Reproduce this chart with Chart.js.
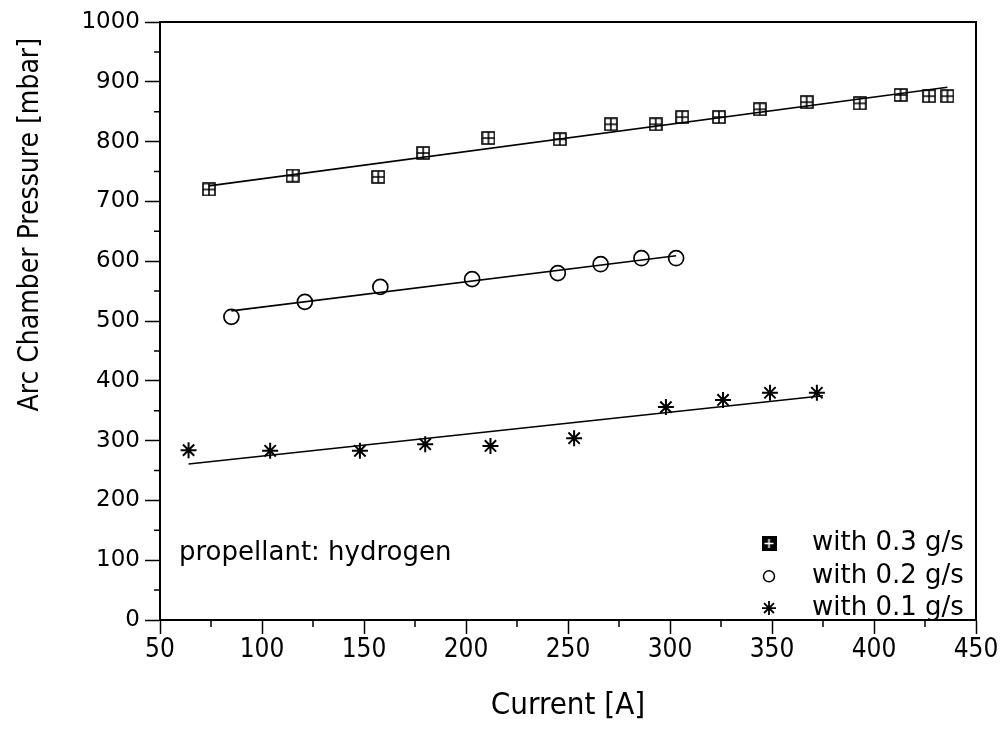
<!DOCTYPE html>
<html><head><meta charset="utf-8">
<script src="https://cdn.jsdelivr.net/npm/chart.js@4.4.1/dist/chart.umd.min.js"></script>
<style>html,body{margin:0;padding:0;background:#fff}</style>
</head><body>
<canvas id="c" width="1003" height="729"></canvas>
<script>
// ---- data ----
const xTickValues = [50, 100, 150, 200, 250, 300, 350, 400, 450];
const yTickValues = [0, 100, 200, 300, 400, 500, 600, 700, 800, 900, 1000];

const current03 = [74, 115, 157, 179, 211, 246, 271, 293, 306, 324, 344, 367, 393, 413, 427, 436];
const pressure03 = [720, 743, 741, 781, 806, 804, 829, 829, 841, 841, 854, 866, 864, 878, 876, 876];

const current02 = [85, 121, 158, 203, 245, 266, 286, 303];
const pressure02 = [507, 532, 557, 570, 580, 595, 605, 605];

const current01 = [64, 104, 148, 180, 212, 253, 298, 326, 349, 372];
const pressure01 = [284, 283, 283, 294, 291, 304, 356, 368, 380, 380];

const fitCurrent03 = [74, 436];
const fitPressure03 = [726, 891];
const fitCurrent02 = [85, 303];
const fitPressure02 = [517, 609];
const fitCurrent01 = [64, 375];
const fitPressure01 = [261, 375];

const legendLabels = ['with 0.3 g/s', 'with 0.2 g/s', 'with 0.1 g/s'];
const noteText = 'propellant: hydrogen';
const xTitle = 'Current [A]';
const yTitle = 'Arc Chamber Pressure [mbar]';

// ---- helpers ----
const pts = (xs, ys) => xs.map((x, i) => ({x: x, y: ys[i]}));

function squareCross(size, filled) {
  const c = document.createElement('canvas');
  c.width = size; c.height = size;
  const g = c.getContext('2d');
  g.lineWidth = 1.6;
  if (filled) {
    g.fillStyle = '#000';
    g.fillRect(0, 0, size, size);
    g.strokeStyle = '#fff';
    g.beginPath();
    g.moveTo(size / 2, 3); g.lineTo(size / 2, size - 3);
    g.moveTo(3, size / 2); g.lineTo(size - 3, size / 2);
    g.stroke();
  } else {
    g.strokeStyle = '#000';
    g.strokeRect(1, 1, size - 2, size - 2);
    g.beginPath();
    g.moveTo(size / 2, 1); g.lineTo(size / 2, size - 1);
    g.moveTo(1, size / 2); g.lineTo(size - 1, size / 2);
    g.stroke();
  }
  return c;
}
const sqImg = squareCross(14, false);

const FONT = '"DejaVu Sans", "Liberation Sans", sans-serif';
const FONT_C = '"DejaVu Sans Condensed", "Liberation Sans Narrow", "DejaVu Sans", sans-serif';

const extras = {
  id: 'extras',
  afterDraw(chart) {
    const g = chart.ctx;
    const xs = chart.scales.x, ys = chart.scales.y;
    const a = chart.chartArea;
    g.save();
    g.strokeStyle = '#000';
    // top and right frame
    g.lineWidth = 2;
    g.beginPath();
    g.moveTo(a.left, a.top); g.lineTo(a.right, a.top); g.lineTo(a.right, a.bottom);
    g.stroke();
    // minor ticks
    g.lineWidth = 1.5;
    g.beginPath();
    for (let v = 75; v < 450; v += 50) {
      const px = xs.getPixelForValue(v);
      g.moveTo(px, a.bottom); g.lineTo(px, a.bottom + 7);
    }
    for (let v = 50; v < 1000; v += 100) {
      const py = ys.getPixelForValue(v);
      g.moveTo(a.left, py); g.lineTo(a.left - 6, py);
    }
    g.stroke();
    // note
    g.fillStyle = '#000';
    g.font = '26px ' + FONT;
    g.textBaseline = 'middle';
    g.textAlign = 'left';
    g.fillText(noteText, a.left + 19, ys.getPixelForValue(112));
    // legend
    const lx = a.left + 609, tx = a.left + 652;
    const rows = [ys.getPixelForValue(128), ys.getPixelForValue(73), ys.getPixelForValue(20)];
    g.font = '26px ' + FONT;
    g.drawImage(squareCross(15, true), lx - 7.5, rows[0] - 7.5);
    g.lineWidth = 1.5;
    g.beginPath(); g.arc(lx, rows[1], 5.5, 0, Math.PI * 2); g.stroke();
    g.lineWidth = 1.8;
    g.beginPath();
    for (let k = 0; k < 4; k++) {
      const ang = k * Math.PI / 4;
      g.moveTo(lx - 7 * Math.cos(ang), rows[2] - 7 * Math.sin(ang));
      g.lineTo(lx + 7 * Math.cos(ang), rows[2] + 7 * Math.sin(ang));
    }
    g.stroke();
    legendLabels.forEach((t, i) => g.fillText(t, tx, rows[i]));
    g.restore();
  }
};

new Chart(document.getElementById('c'), {
  type: 'scatter',
  data: {
    datasets: [
      {data: pts(current03, pressure03), pointStyle: sqImg, pointRadius: 7, showLine: false},
      {data: pts(current02, pressure02), pointStyle: 'circle', pointRadius: 7.5, borderColor: '#000', backgroundColor: 'rgba(0,0,0,0)', borderWidth: 1.7, showLine: false},
      {data: pts(current01, pressure01), pointStyle: 'star', pointRadius: 8, borderColor: '#000', borderWidth: 2, showLine: false},
      {data: pts(fitCurrent03, fitPressure03), showLine: true, pointRadius: 0, borderColor: '#000', borderWidth: 1.6},
      {data: pts(fitCurrent02, fitPressure02), showLine: true, pointRadius: 0, borderColor: '#000', borderWidth: 1.6},
      {data: pts(fitCurrent01, fitPressure01), showLine: true, pointRadius: 0, borderColor: '#000', borderWidth: 1.6}
    ]
  },
  options: {
    responsive: false,
    animation: false,
    devicePixelRatio: 1,
    layout: {padding: {top: 22, right: 27, left: 0, bottom: 0}},
    plugins: {legend: {display: false}, tooltip: {enabled: false}},
    scales: {
      x: {
        type: 'linear', min: 50, max: 450,
        afterBuildTicks: s => { s.ticks = xTickValues.map(v => ({value: v})); },
        afterFit: s => { s.height = 109; },
        ticks: {color: '#000', font: {family: FONT_C, size: 26}, padding: 1, maxRotation: 0, callback: v => String(v)},
        grid: {display: true, drawOnChartArea: false, drawTicks: true, tickLength: 14, tickColor: '#000', tickWidth: 1.5},
        border: {display: true, color: '#000', width: 2},
        title: {display: true, text: xTitle, color: '#000', font: {family: FONT_C, size: 31}, padding: {top: 14}}
      },
      y: {
        type: 'linear', min: 0, max: 1000,
        afterBuildTicks: s => { s.ticks = yTickValues.map(v => ({value: v})); },
        afterFit: s => { s.width = 160; },
        ticks: {color: '#000', font: {family: FONT, size: 23}, padding: 5, callback: v => String(v)},
        grid: {display: true, drawOnChartArea: false, drawTicks: true, tickLength: 15, tickColor: '#000', tickWidth: 1.5},
        border: {display: true, color: '#000', width: 2},
        title: {display: true, text: yTitle + '  ', color: '#000', align: 'end', font: {family: FONT_C, size: 28}, padding: {top: 14, bottom: 0}}
      }
    }
  },
  plugins: [extras]
});
</script>
</body></html>
